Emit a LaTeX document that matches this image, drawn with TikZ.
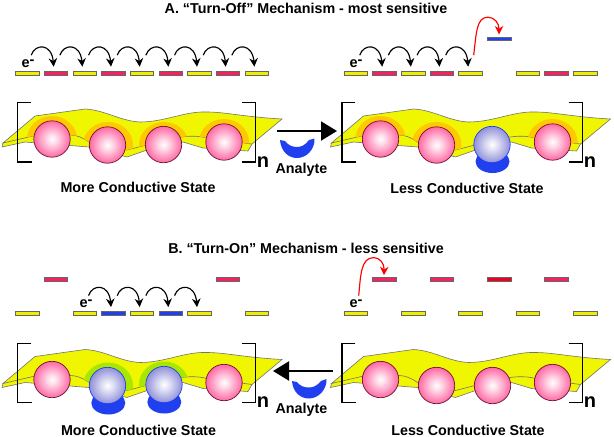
\documentclass[tikz,border=0pt]{standalone}
\usepackage{fontspec}
\setmainfont{Liberation Sans}
\usetikzlibrary{arrows.meta,calc}
\definecolor{lyel}{HTML}{EEEE00}
\definecolor{sheety}{HTML}{F0F500}
\definecolor{lpink}{HTML}{F82060}
\definecolor{lred}{HTML}{F00020}
\definecolor{lblue}{HTML}{2040F0}
\definecolor{blob}{HTML}{2040F0}
\definecolor{haloa}{HTML}{FFC800}
\definecolor{halob}{HTML}{FF9C00}
\definecolor{haloc}{HTML}{A8E800}
\definecolor{pinkedge}{HTML}{E8306F}
\definecolor{pinkmid}{HTML}{FF62A0}
\definecolor{blueedge}{HTML}{3040D0}
\definecolor{bluemid}{HTML}{8C8CD8}
\pgfdeclareradialshading{pinkball}{\pgfpoint{0bp}{0bp}}{color(0bp)=(white);color(7bp)=(white!75!pinkmid);color(26bp)=(pinkmid);color(50bp)=(pinkedge)}
\pgfdeclareradialshading{blueball}{\pgfpoint{0bp}{0bp}}{color(0bp)=(white);color(7bp)=(white!75!bluemid);color(26bp)=(bluemid);color(50bp)=(blueedge)}
\tikzset{
  x=1pt,y=-1pt,
  level/.style={draw=black!60,line width=.5pt,minimum width=23.5,minimum height=3.6,inner sep=0pt,outer sep=0pt},
  yl/.style={level,fill=lyel},
  pk/.style={level,fill=lpink},
  rd/.style={level,fill=lred},
  bl/.style={level,fill=lblue},
  hop/.style={line width=1.15pt,-{Stealth[length=8.5pt,width=8.5pt]}},
  redhop/.style={hop,red},
  bigarrow/.style={line width=2pt,-{Triangle[length=16pt,width=19pt]}},
  brk/.style={line width=1.4pt,line cap=butt},
  sheetline/.style={draw=black!55,line width=.6pt,fill=sheety},
  title/.style={font=\bfseries\fontsize{14.3}{16}\selectfont,inner sep=0pt},
  elec/.style={font=\bfseries\fontsize{14.5}{14}\selectfont,inner sep=0pt},
  unit/.style={font=\bfseries\fontsize{20}{20}\selectfont,inner sep=0pt},
  anal/.style={font=\bfseries\fontsize{14.3}{16}\selectfont,inner sep=0pt},
}
% top surface of the sheet
\def\topsurf{(3,143) -- (35,116) -- (85,109) .. controls (105,110) and (120,121) .. (140,122) .. controls (165,122) and (185,111) .. (207,112) .. controls (225,112) and (245,117) .. (282,119) -- (252,144) -- (207,138) .. controls (195,135) and (185,136) .. (170,139) -- (127,150) -- (89,142) .. controls (82,137) and (76,135) .. (70,135) -- (33,136) -- cycle}
\newcommand{\sheetdraw}{%
  \path[sheetline] (2,147) -- (3,143) -- (33,128) -- (252,128) -- (252,144) -- (248,151) -- (203,148) -- (183,142) -- (147,150) -- (127,157) -- (89,147) -- (25,142) -- cycle;
  \path[sheetline] \topsurf;
}
\newcommand{\halo}[3]{% x y colour
  \begin{scope}
    \clip \topsurf;
    \fill[#3] (#1,#2) ellipse [x radius=25,y radius=23];
    \ifx#3haloa\fill[halob] (#1+1.5,#2+1) ellipse [x radius=22,y radius=22];\fi
  \end{scope}
}
\newcommand{\pball}[2]{\path[shading=pinkball,draw=black!55!pinkedge,line width=.7pt] (#1,#2) circle [radius=18.2];}
\newcommand{\bball}[2]{\path[shading=blueball,draw=lblue,line width=.7pt] (#1,#2) circle [radius=18.2];}
\newcommand{\anblob}[2]{\fill[blob] (#1,#2) ellipse [x radius=17,y radius=11.5];}
\newcommand{\brackets}[2]{% left-bracket shift, right-bracket shift
  \draw[brk] (31+#1,102.7) -- (17.5+#1,102.7) -- (17.5+#1,162) -- (32+#1,162);
  \draw[brk] (241.7+#2,102.7) -- (255.7+#2,102.7) -- (255.7+#2,162) -- (241.7+#2,162);
}
\newcommand{\hopp}[2]{%
  \draw[hop] ($(#1.north)+(4,-16)$) .. controls ($(#1.north)+(8,-28)$) and ($(#2.north)+(-4.2,-28)$) .. ($(#2.north)+(-2.2,-4.5)$);
}
\begin{document}
\begin{tikzpicture}
\useasboundingbox (0,0) rectangle (614,437);
\fill[white] (0,0) rectangle (614,437);

% ---- titles
\node[title] (ta) at (306,8) {A. “Turn-Off” Mechanism - most sensitive};
\node[title] (tb) at (306,248.5) {B. “Turn-On” Mechanism - less sensitive};

% ---- A left
\begin{scope}
  \sheetdraw
  \halo{52}{139}{haloa}\halo{108}{145}{haloa}\halo{164}{145}{haloa}\halo{224}{142}{haloa}
  \pball{52}{139}\pball{107.5}{145}\pball{163.5}{144.5}\pball{224}{142}
  \brackets{0}{0}
\end{scope}
% ---- A right
\begin{scope}[shift={(328.5,0)}]
  \sheetdraw
  \halo{52}{139}{haloa}\halo{108}{145}{haloa}\halo{224}{142}{haloa}
  \pball{52}{139}\pball{108}{145}
  \anblob{164}{161.5}
  \bball{163.5}{144.5}
  \pball{224}{142}
  \brackets{-4.2}{-1.7}
\end{scope}
% ---- B left
\begin{scope}[shift={(0,240.5)}]
  \sheetdraw
  \halo{108}{145}{haloc}\halo{164}{144}{haloc}
  \pball{52}{139}
  \anblob{108.3}{162.5}\anblob{164.3}{161.5}
  \bball{107.5}{145}\bball{164}{144}
  \pball{224}{142}
  \brackets{0}{0}
\end{scope}
% ---- B right
\begin{scope}[shift={(328.5,240.5)}]
  \sheetdraw
  \pball{52}{139}\pball{108}{145}\pball{164}{145}\pball{224}{142}
  \brackets{-4.2}{-1.7}
\end{scope}

% ---- n labels
\node[unit] (na) at (263,162) {n};
\node[unit] (nb) at (590,162) {n};
\node[unit] (nc) at (263,402.5) {n};
\node[unit] (nd) at (590,402.5) {n};

% ---- energy levels A left
\foreach \i/\s in {0/yl,1/pk,2/yl,3/pk,4/yl,5/pk,6/yl,7/pk,8/yl}
  \node[\s] (a\i) at ({27.2+28.67*\i},73) {};
% A right
\foreach \i/\s in {0/yl,1/pk,2/yl,3/pk,4/yl,6/yl,7/pk,8/yl}
  \node[\s] (c\i) at ({355.7+28.67*\i},73) {};
\node[bl] (c5) at ({355.7+28.67*5},38.8) {};
% B left
\foreach \i/\s/\y in {0/yl/313.4,1/pk/279,2/yl/313.4,3/bl/313.4,4/yl/313.4,5/bl/313.4,6/yl/313.4,7/pk/279,8/yl/313.4}
  \node[\s] (b\i) at ({27.2+28.67*\i},\y) {};
% B right
\foreach \i/\s/\y in {0/yl/313.4,1/pk/279,2/yl/313.4,3/pk/279,4/yl/313.4,5/rd/279,6/yl/313.4,7/pk/279,8/yl/313.4}
  \node[\s] (d\i) at ({355.7+28.67*\i},\y) {};

% ---- hops
\foreach \p/\q in {0/1,1/2,2/3,3/4,4/5,5/6,6/7,7/8} { \hopp{a\p}{a\q} }
\foreach \p/\q in {0/1,1/2,2/3,3/4} { \hopp{c\p}{c\q} }
\foreach \p/\q in {2/3,3/4,4/5,5/6} { \hopp{b\p}{b\q} }
\draw[redhop] ($(c4.north)+(3.3,-16)$) .. controls ($(c4.north)+(6,-38)$) and ($(c4.north)+(6,-54)$) .. ($(c4.north)+(17.5,-54)$) .. controls ($(c4.north)+(24,-54)$) and ($(c5.north)+(0,-14)$) .. ($(c5.north)+(0,-2.5)$);
\draw[redhop] ($(d0.north)+(3,-16)$) .. controls ($(d0.north)+(5,-36)$) and ($(d0.north)+(5,-54)$) .. ($(d0.north)+(18,-54)$) .. controls ($(d0.north)+(24,-54)$) and ($(d1.north)+(0,-14)$) .. ($(d1.north)+(-0.4,-2)$);

% ---- e- labels
\node[elec] (ea) at (28,64) {e\raisebox{3.5pt}{-}};
\node[elec] (ec) at (356,64) {e\raisebox{3.5pt}{-}};
\node[elec] (eb) at (86,304) {e\raisebox{3.5pt}{-}};
\node[elec] (ed) at (356,304) {e\raisebox{3.5pt}{-}};

% ---- state labels
\node[title] (sa) at (138,187.5) {More Conductive State};
\node[title] (sc) at (467,188) {Less Conductive State};
\node[title] (sb) at (138.5,430) {More Conductive State};
\node[title] (sd) at (468,430) {Less Conductive State};

% ---- analyte arrows
\coordinate (ra) at (277,131);
\coordinate (rb) at (337,131);
\draw[bigarrow] (ra) -- (rb);
\coordinate (la) at (333,371);
\coordinate (lb) at (273,371);
\draw[bigarrow] (la) -- (lb);
\fill[blob] (280,140) .. controls (281,152) and (289,158) .. (297,158) .. controls (306,158) and (315,150) .. (314.5,138.5) -- (309,140) .. controls (305,145.5) and (301,147) .. (297,147) .. controls (292,147) and (288,145) .. (285,141) -- cycle;
\fill[blob] (292,381) .. controls (293,393) and (301,398.5) .. (309,398.5) .. controls (318,398.5) and (327,390) .. (326.5,379) -- (321,381) .. controls (317,386) and (313,387.5) .. (309,387.5) .. controls (304,387.5) and (300,386) .. (297,382) -- cycle;
\node[anal] (ana) at (301.5,169.5) {Analyte};
\node[anal] (anb) at (301.5,410) {Analyte};
\end{tikzpicture}
\end{document}
